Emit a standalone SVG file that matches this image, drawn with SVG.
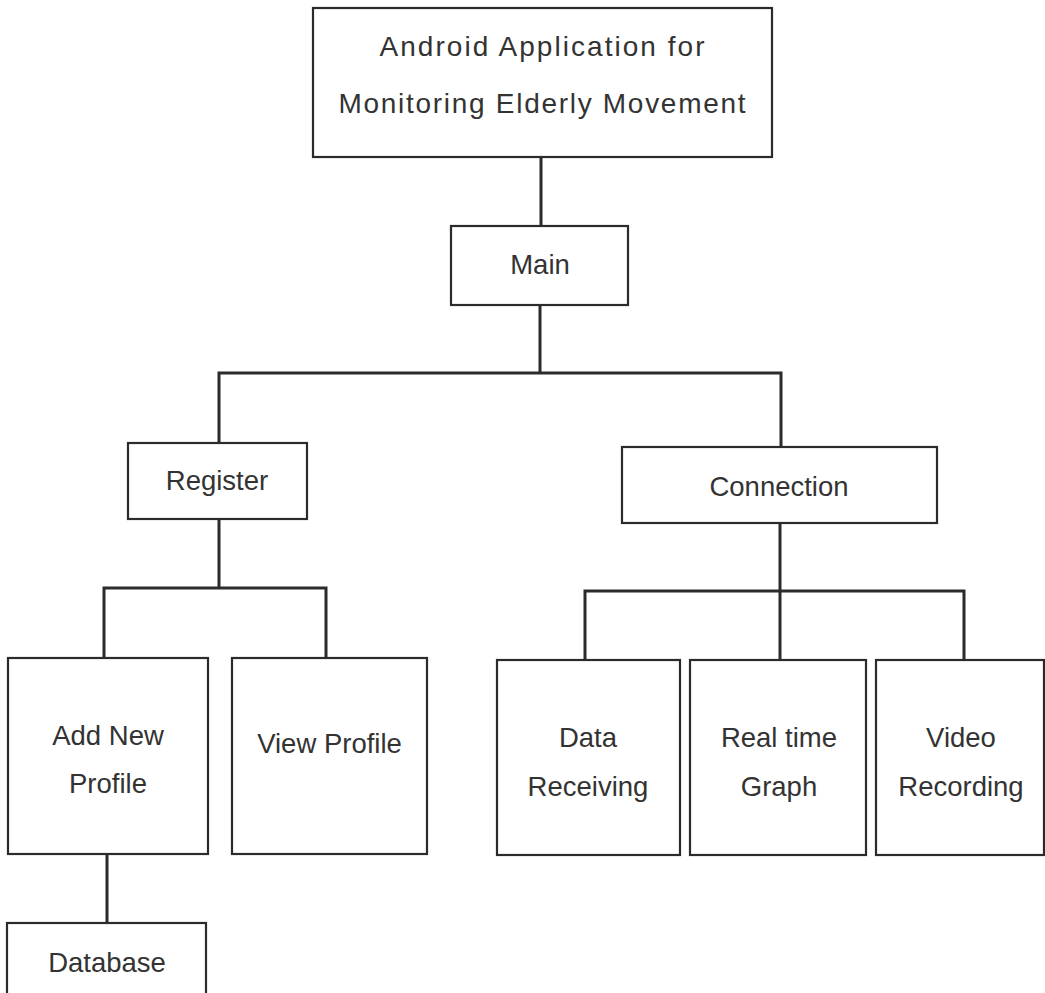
<svg xmlns="http://www.w3.org/2000/svg" width="1045" height="993" viewBox="0 0 1045 993">
  <style>
    .box { fill: #ffffff; stroke: #2b2b2b; stroke-width: 2.2; }
    .wire { fill: none; stroke: #2b2b2b; stroke-width: 3; stroke-linejoin: miter; }
    .label { font-family: "Liberation Sans", Arial, sans-serif; font-size: 27.5px; fill: #333333; text-anchor: middle; }
    .title { font-family: "Liberation Sans", Arial, sans-serif; font-size: 28px; fill: #333333; text-anchor: middle; }
  </style>
  <rect x="0" y="0" width="1045" height="993" fill="#ffffff"/>

  <!-- connectors -->
  <g id="connectors">
    <line class="wire" x1="541" y1="157" x2="541" y2="226"/>
    <line class="wire" x1="540" y1="305" x2="540" y2="373"/>
    <path class="wire" d="M219,443 V373 H781 V447"/>
    <line class="wire" x1="219" y1="519" x2="219" y2="588"/>
    <path class="wire" d="M104,658 V588 H326 V658"/>
    <line class="wire" x1="107" y1="854" x2="107" y2="923"/>
    <line class="wire" x1="780" y1="523" x2="780" y2="660"/>
    <path class="wire" d="M585,660 V591 H964 V660"/>
  </g>

  <!-- root -->
  <g id="node-app">
    <rect class="box" x="313" y="8" width="459" height="149"/>
    <text class="title" x="542" y="56" textLength="325" lengthAdjust="spacing">Android Application for</text>
    <text class="title" x="542" y="113" textLength="407" lengthAdjust="spacing">Monitoring Elderly Movement</text>
  </g>

  <g id="node-main">
    <rect class="box" x="451" y="226" width="177" height="79"/>
    <text class="label" x="540" y="274">Main</text>
  </g>

  <g id="node-register">
    <rect class="box" x="128" y="443" width="179" height="76"/>
    <text class="label" x="217" y="490">Register</text>
  </g>

  <g id="node-connection">
    <rect class="box" x="622" y="447" width="315" height="76"/>
    <text class="label" x="779" y="496">Connection</text>
  </g>

  <g id="node-add-profile">
    <rect class="box" x="8" y="658" width="200" height="196"/>
    <text class="label" x="108" y="745">Add New</text>
    <text class="label" x="108" y="793">Profile</text>
  </g>

  <g id="node-view-profile">
    <rect class="box" x="232" y="658" width="195" height="196"/>
    <text class="label" x="329.5" y="753">View Profile</text>
  </g>

  <g id="node-database">
    <rect class="box" x="7" y="923" width="199" height="90"/>
    <text class="label" x="107" y="972">Database</text>
  </g>

  <g id="node-data-receiving">
    <rect class="box" x="497" y="660" width="183" height="195"/>
    <text class="label" x="588" y="747">Data</text>
    <text class="label" x="588" y="796">Receiving</text>
  </g>

  <g id="node-realtime-graph">
    <rect class="box" x="690" y="660" width="176" height="195"/>
    <text class="label" x="779" y="747">Real time</text>
    <text class="label" x="779" y="796">Graph</text>
  </g>

  <g id="node-video-recording">
    <rect class="box" x="876" y="660" width="168" height="195"/>
    <text class="label" x="961" y="747">Video</text>
    <text class="label" x="961" y="796">Recording</text>
  </g>
</svg>
